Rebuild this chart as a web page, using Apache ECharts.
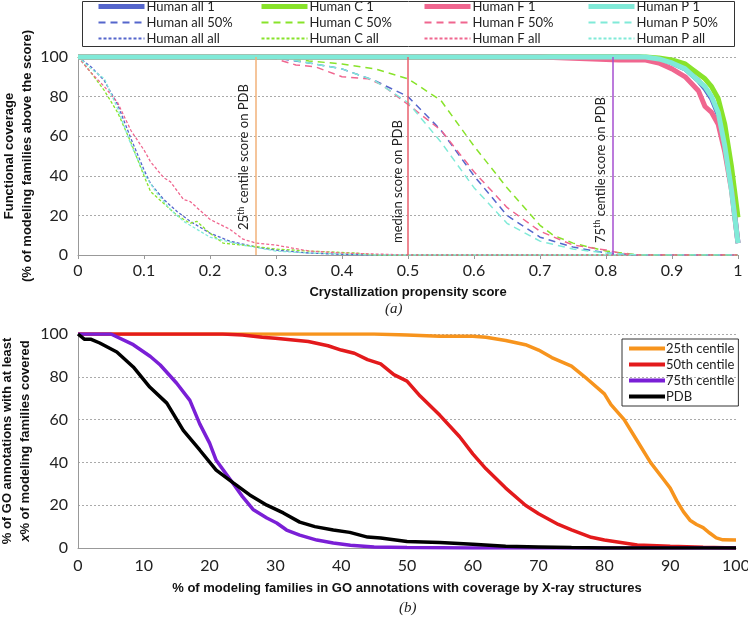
<!DOCTYPE html>
<html>
<head>
<meta charset="utf-8">
<script src="https://cdn.jsdelivr.net/npm/echarts@6/dist/echarts.min.js"></script>
<style>
  html, body { margin: 0; padding: 0; background: #fff; }
  #chart { width: 748px; height: 619px; }
</style>
</head>
<body>
<div id="chart"></div>
<script>
// ---- panel (a): functional coverage vs crystallization propensity score ----
const allOne = [[0,100],[0.85,100],[0.88,99],[0.9,97],[0.92,94],[0.94,88],[0.95,84],[0.96,79],[0.97,71],[0.98,56],[0.99,35],[1,6]];
const cOne   = [[0,100],[0.86,100],[0.88,99.5],[0.9,98.5],[0.92,96.5],[0.93,94],[0.95,89],[0.96,85],[0.97,79],[0.98,66],[0.99,45],[1,19]];
const fOne   = [[0,100],[0.7,100],[0.78,99],[0.82,98.5],[0.86,98.5],[0.88,97],[0.9,94],[0.92,90],[0.94,83],[0.95,75],[0.96,72],[0.97,66],[0.98,52],[0.99,33],[1,6]];
const pOne   = [[0,100],[0.86,100],[0.88,99],[0.9,97],[0.92,94],[0.94,88],[0.95,85],[0.96,80],[0.97,72],[0.98,55],[0.99,33],[1,6]];

const all50 = [[0,100],[0.25,100],[0.3,99.5],[0.35,97],[0.4,94],[0.45,88],[0.5,80],[0.55,63],[0.6,40],[0.65,20],[0.7,9],[0.75,4],[0.8,1],[0.85,0],[1,0]];
const c50   = [[0,100],[0.3,100],[0.35,98],[0.4,96.5],[0.45,94],[0.5,89],[0.55,78],[0.6,55],[0.65,34],[0.7,15],[0.72,10],[0.75,6],[0.8,2],[0.85,0],[1,0]];
const f50   = [[0,100],[0.25,100],[0.3,99],[0.33,96],[0.36,95],[0.4,90],[0.44,89],[0.46,86],[0.5,76],[0.55,63],[0.6,42],[0.65,24],[0.7,12],[0.75,5],[0.8,2.5],[0.82,1],[0.85,0],[1,0]];
const p50   = [[0,100],[0.3,100],[0.35,97],[0.4,94],[0.45,88],[0.5,77],[0.55,57],[0.6,34],[0.65,16],[0.7,7],[0.75,3],[0.8,1],[0.85,0],[1,0]];

const allAll = [[0,100],[0.02,95],[0.04,88],[0.06,76],[0.08,59],[0.1,43],[0.11,36],[0.13,28],[0.15,22],[0.17,17],[0.2,11],[0.23,7],[0.27,4],[0.3,2.5],[0.35,1],[0.4,0.3],[0.45,0],[1,0]];
const cAll   = [[0,100],[0.02,92],[0.04,83],[0.06,72],[0.08,57],[0.1,40],[0.11,32],[0.13,26],[0.15,20],[0.17,16],[0.18,17],[0.2,11],[0.22,6],[0.25,5],[0.3,3],[0.35,2],[0.42,1],[0.45,0],[1,0]];
const fAll   = [[0,100],[0.02,92],[0.04,85],[0.06,77],[0.08,63],[0.1,53],[0.11,47],[0.13,39],[0.14,37],[0.16,28],[0.17,27],[0.2,18],[0.23,13],[0.25,8],[0.27,6],[0.3,5],[0.35,2],[0.4,1],[0.5,0],[1,0]];
const pAll   = [[0,100],[0.02,94],[0.04,89],[0.06,74],[0.08,56],[0.1,41],[0.12,31],[0.14,23],[0.16,17],[0.2,9],[0.25,5],[0.3,2],[0.35,1],[0.45,0],[1,0]];

const pdbScores = [0.27, 0.5, 0.805];
const pdbScoreLabels = ['25{s|th} centile score on PDB', 'median score on PDB', '75{s|th} centile score on PDB'];

// ---- panel (b): GO annotations coverage ----
const centile25 = [[0,100],[45,100],[50,99.5],[55,99],[60,99],[62,98.5],[65,97],[68,95],[70,92.5],[72,89],[75,85],[77,80],[80,72],[81,67],[83,60],[85,50],[87,40],[89,32],[90,28],[91,22],[92,17],[93,13],[94,11],[95,9.5],[96,7],[97,4.7],[98,3.8],[100,3.7]];
const centile50 = [[0,100],[22,100],[25,99.5],[28,98.5],[30,98],[35,96.5],[38,94.5],[40,92.5],[42,91],[44,88],[46,86],[48,81],[50,78],[52,71],[55,62],[58,52],[60,44],[62,37],[65,28],[68,20],[70,16],[73,11],[75,8.5],[78,5],[80,3.7],[85,1.4],[90,0.8],[95,0.3],[100,0]];
const centile75 = [[0,100],[5,100],[8.4,95],[11,89.5],[12.5,85.5],[15,77],[17,69],[18.5,58],[20,49],[21,41],[23.6,30],[25,24],[26.6,18],[28.7,14],[30.2,11.7],[31.7,8.4],[33.7,6],[36.3,3.7],[38.8,2.3],[41.4,1.3],[45,0.5],[50,0.2],[60,0],[100,0]];
const pdbCurve  = [[0,100],[1,97.5],[2,97.5],[3.3,95.8],[5.9,91.6],[8.4,84.6],[10.9,75.2],[13.5,67.7],[16,55],[18.5,45.8],[21,36.4],[23.6,30.4],[26.1,24.8],[28.7,20],[31.2,16.4],[33.7,12.1],[36,10],[38.8,8.4],[41.3,7.3],[44,5.1],[46,4.7],[50,3],[55,2.6],[60,1.7],[65,0.8],[70,0.5],[75,0.2],[80,0],[100,0]];

const yTicks = [0, 20, 40, 60, 80, 100];

const colAll = '#5566cc', colC = '#88e32a', colF = '#f0668f', colP = '#80ead8';
const tickFont = { fontFamily: 'Lato', fontSize: 16, color: '#222' };
const titleFont = { fontFamily: 'Liberation Sans', fontSize: 13, fontWeight: 'bold', color: '#111' };

const myChart = echarts.init(document.getElementById('chart'));

function solid(name, data, color) {
  return { name, type: 'line', data, xAxisIndex: 0, yAxisIndex: 0, symbol: 'none', clip: false,
    lineStyle: { color, width: 5 }, itemStyle: { color } };
}
function dashed(name, data, color) {
  return { name, type: 'line', data, xAxisIndex: 0, yAxisIndex: 0, symbol: 'none',
    lineStyle: { color, width: 1.5, type: [7, 5] }, itemStyle: { color } };
}
function dotted(name, data, color) {
  return { name, type: 'line', data, xAxisIndex: 0, yAxisIndex: 0, symbol: 'none',
    lineStyle: { color, width: 1.3, type: [3, 2] }, itemStyle: { color } };
}
function bottomLine(name, data, color) {
  return { name, type: 'line', data, xAxisIndex: 1, yAxisIndex: 1, symbol: 'none',
    lineStyle: { color, width: 3.5 }, itemStyle: { color } };
}

const vlineColors = ['#f2b27a', '#e8606e', '#a64fd0'];
const vlineOffsets = [25, 12, 12];

const series = [
  dotted('Human all all', allAll, colAll),
  dotted('Human C all', cAll, colC),
  dotted('Human F all', fAll, colF),
  dotted('Human P all', pAll, colP),
  dashed('Human all 50%', all50, colAll),
  dashed('Human C 50%', c50, colC),
  dashed('Human F 50%', f50, colF),
  dashed('Human P 50%', p50, colP),
  solid('Human all 1', allOne, colAll),
  solid('Human C 1', cOne, colC),
  solid('Human F 1', fOne, colF),
  solid('Human P 1', pOne, colP),
  bottomLine('25th centile', centile25, '#f7941d'),
  bottomLine('50th centile', centile50, '#e31a1c'),
  bottomLine('75th centile', centile75, '#7a1fd6'),
  bottomLine('PDB', pdbCurve, '#000000')
];

// vertical PDB score markers on panel (a)
series[0].markLine = {
  symbol: 'none', silent: true, animation: false,
  data: pdbScores.map((v, i) => ({
    xAxis: v,
    lineStyle: { color: vlineColors[i], width: 1.5, type: 'solid' },
    label: {
      show: true, position: 'insideStartTop', distance: [vlineOffsets[i], 4],
      formatter: pdbScoreLabels[i],
      fontFamily: 'Lato', fontSize: 13, color: '#222',
      rich: { s: { fontFamily: 'Lato', fontSize: 9, color: '#222', verticalAlign: 'top', padding: [0, 0, 7, 0] } }
    }
  }))
};

const legendCols = [
  ['Human all 1', 'Human all 50%', 'Human all all'],
  ['Human C 1', 'Human C 50%', 'Human C all'],
  ['Human F 1', 'Human F 50%', 'Human F all'],
  ['Human P 1', 'Human P 50%', 'Human P all']
];
const legendLefts = [96, 259, 422, 586];

const legends = legendCols.map((names, i) => ({
  data: names.map((n, j) => (j === 0 ? { name: n, lineStyle: { width: 5 } } : n)),
  orient: 'vertical', left: legendLefts[i], top: 0,
  itemWidth: 46, itemHeight: 11, itemGap: 3, padding: 0,
  itemStyle: { opacity: 0 },
  textStyle: { fontFamily: 'Lato', fontSize: 13, color: '#222', padding: [0, 0, 0, -3] }
}));
legends.push({
  data: ['25th centile', '50th centile', '75th centile', 'PDB'],
  orient: 'vertical', left: 622, top: 339,
  itemWidth: 36, itemHeight: 8, itemGap: 3, padding: [3, 4, 3, 5],
  borderColor: '#333', borderWidth: 1,
  itemStyle: { opacity: 0 },
  lineStyle: { width: 4 },
  textStyle: { fontFamily: 'Lato', fontSize: 13, color: '#222', padding: [0, 0, 0, -4] }
});

const option = {
  animation: false,
  backgroundColor: '#fff',
  legend: legends,
  grid: [
    { left: 78, top: 57, width: 660, height: 198, outerBoundsMode: 'none' },
    { left: 78, top: 334, width: 658, height: 214, outerBoundsMode: 'none' }
  ],
  xAxis: [
    {
      type: 'value', gridIndex: 0, min: 0, max: 1, interval: 0.1,
      name: 'Crystallization propensity score', nameLocation: 'middle', nameGap: 31,
      nameTextStyle: titleFont,
      axisLine: { lineStyle: { color: '#999' } },
      axisTick: { show: true, length: 4, lineStyle: { color: '#999' } },
      axisLabel: Object.assign({ margin: 8 }, tickFont),
      splitLine: { show: false }
    },
    {
      type: 'value', gridIndex: 1, min: 0, max: 100, interval: 10,
      name: '% of modeling families in GO annotations with coverage by X-ray structures',
      nameLocation: 'middle', nameGap: 34,
      nameTextStyle: titleFont,
      axisLine: { lineStyle: { color: '#999' } },
      axisTick: { show: false },
      axisLabel: Object.assign({ margin: 10 }, tickFont),
      splitLine: { show: false }
    }
  ],
  yAxis: [
    {
      type: 'value', gridIndex: 0, min: yTicks[0], max: yTicks[yTicks.length - 1], interval: 20,
      name: 'Functional coverage\n(% of modeling families above the score)',
      nameLocation: 'middle', nameGap: 42, nameRotate: 90, nameMoveOverlap: false,
      nameTextStyle: Object.assign({ lineHeight: 18 }, titleFont),
      axisLine: { show: true, lineStyle: { color: '#999' } },
      axisTick: { show: false },
      axisLabel: Object.assign({ margin: 10 }, tickFont),
      splitLine: { lineStyle: { color: '#aaa', type: [2, 2] } }
    },
    {
      type: 'value', gridIndex: 1, min: yTicks[0], max: yTicks[yTicks.length - 1], interval: 20,
      name: '{n|% of GO annotations with at least}\n{i|x}{n|% of modeling families covered}',
      nameLocation: 'middle', nameGap: 44, nameRotate: 90, nameMoveOverlap: false,
      nameTextStyle: {
        lineHeight: 18,
        rich: {
          n: Object.assign({ lineHeight: 18 }, titleFont),
          i: Object.assign({ lineHeight: 18, fontStyle: 'italic' }, titleFont)
        }
      },
      axisLine: { show: true, lineStyle: { color: '#999' } },
      axisTick: { show: false },
      axisLabel: Object.assign({ margin: 10 }, tickFont),
      splitLine: { lineStyle: { color: '#aaa', type: [2, 2] } }
    }
  ],
  graphic: [
    { type: 'rect', left: 80, top: -1, shape: { width: 652, height: 45 },
      style: { fill: 'none', stroke: '#333', lineWidth: 1 }, silent: true },
    { type: 'text', left: 385, top: 302,
      style: { text: '(a)', font: 'italic 15px "Liberation Serif"', fill: '#222' } },
    { type: 'text', left: 399, top: 601,
      style: { text: '(b)', font: 'italic 15px "Liberation Serif"', fill: '#222' } }
  ],
  series
};

myChart.setOption(option);
window.addEventListener('resize', () => myChart.resize());
</script>
</body>
</html>
